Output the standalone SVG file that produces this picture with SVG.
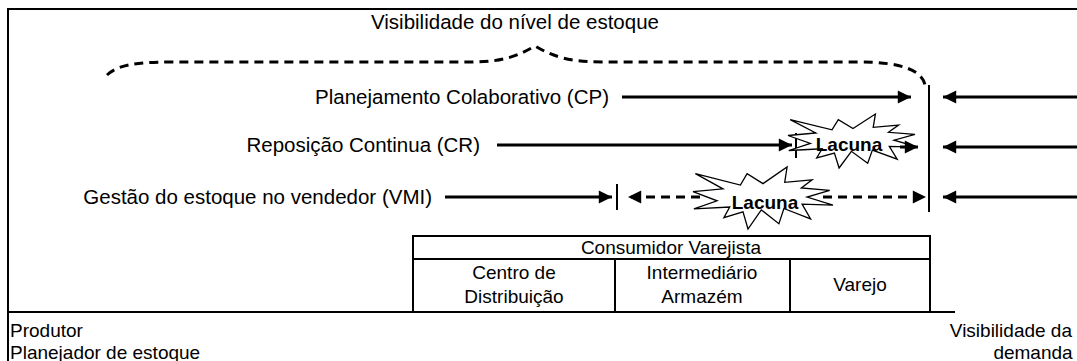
<svg xmlns="http://www.w3.org/2000/svg" width="1077" height="361" viewBox="0 0 1077 361">
<style>
text{font-family:"Liberation Sans",Arial,sans-serif;font-size:19px;fill:#000}
.lg{font-size:20.5px}
.b{font-weight:bold}
.ln{stroke:#000;stroke-width:3;fill:none}
.ds{stroke:#000;stroke-width:3;fill:none;stroke-dasharray:9,6}
.fr{stroke:#000;stroke-width:2;fill:none}
.st{fill:#fff;stroke:#000;stroke-width:1.3}
</style>
<defs>
<marker id="ah" viewBox="0 0 10 10" refX="10" refY="5" markerWidth="5.3" markerHeight="4.4" orient="auto-start-reverse" markerUnits="strokeWidth"><path d="M0,0 L10,5 L0,10 z" fill="#000"/></marker>
</defs>
<rect width="1077" height="361" fill="#fff"/>
<g id="frame">
<path class="fr" d="M8,361 V9 H1077"/>
<path class="fr" d="M8,312 H955"/>
</g>
<g id="title"><text class="lg" x="515" y="29" text-anchor="middle">Visibilidade do nível de estoque</text></g>
<g id="labels">
<text class="lg" x="609" y="104" text-anchor="end">Planejamento Colaborativo (CP)</text>
<text class="lg" x="480" y="152" text-anchor="end">Reposição Continua (CR)</text>
<text class="lg" x="432" y="204" text-anchor="end">Gestão do estoque no vendedor (VMI)</text>
<text x="10" y="337" font-size="18.5">Produtor</text>
<text x="10" y="359" font-size="18.5">Planejador de estoque</text>
<text x="1072" y="337" text-anchor="end">Visibilidade da</text>
<text x="1033" y="359" text-anchor="middle">demanda</text>
</g>
<g id="connectors">
<path class="ds" stroke-width="2.5" d="M107,75 C118,65 135,62 170,62 L472,62 C502,62 518,56 535,46 C552,56 568,62 602,62 L860,62 C900,62 922,70 925,85"/>
<line class="ln" x1="622" y1="97" x2="911" y2="97" marker-end="url(#ah)"/>
<line class="ln" x1="497" y1="145" x2="792" y2="145" marker-end="url(#ah)"/>
<line class="ln" x1="445" y1="197" x2="612" y2="197" marker-end="url(#ah)"/>
<line class="ln" x1="1077" y1="97" x2="943" y2="97" marker-end="url(#ah)"/>
<line class="ln" x1="1077" y1="147" x2="943" y2="147" marker-end="url(#ah)"/>
<line class="ln" x1="1077" y1="197" x2="943" y2="197" marker-end="url(#ah)"/>
<line class="fr" x1="929" y1="85" x2="929" y2="212"/>
<line class="fr" x1="796" y1="133" x2="796" y2="158"/>
<line class="fr" x1="617" y1="184" x2="617" y2="210"/>
<line class="ds" x1="700" y1="197" x2="628" y2="197" marker-end="url(#ah)"/>
<line class="ds" x1="823" y1="197" x2="926" y2="197" marker-end="url(#ah)"/>
</g>
<g id="lacuna-cr">
<polygon class="st" points="853,128.5 875.4,114 873.2,127.3 898.6,125.1 888.5,132.3 915,134.3 894,140.2 918,147.2 889.3,146.4 897.2,159.2 872.4,150.1 867.7,163.3 851.4,151.3 839.1,168 834.4,153.1 816.7,158 822.1,148.8 788.8,150.5 810.4,143.4 788,135.5 815.8,133 790.2,119.7 832,129.8 838.3,119.7"/>
<line class="ln" x1="900" y1="147" x2="918" y2="147" marker-end="url(#ah)"/>
<text class="b" x="849" y="151" text-anchor="middle" font-size="14.5">Lacuna</text>
</g>
<g id="lacuna-vmi">
<polygon class="st" points="763,183.6 787.1,167 784.7,182.3 812.1,179.8 801.3,188 829.7,190.4 807.1,197.1 833,205.1 802.1,204.1 810.6,218.9 783.9,208.5 778.9,223.7 761.3,209.9 748,229 743,211.9 723.9,217.6 729.7,207 693.9,208.9 717.1,200.8 693,191.7 723,188.9 695.4,173.6 740.4,185.1 747.1,173.6"/>
<text class="b" x="765" y="209" text-anchor="middle" font-size="18">Lacuna</text>
</g>
<g id="table">
<rect class="fr" x="413" y="236" width="517" height="76"/>
<line class="fr" x1="413" y1="259" x2="930" y2="259"/>
<line class="fr" x1="615" y1="259" x2="615" y2="312"/>
<line class="fr" x1="790" y1="259" x2="790" y2="312"/>
<text x="671" y="254" text-anchor="middle" font-size="20">Consumidor Varejista</text>
<text x="514" y="279" text-anchor="middle">Centro de</text>
<text x="514" y="303" text-anchor="middle">Distribuição</text>
<text x="702" y="279" text-anchor="middle">Intermediário</text>
<text x="702" y="303" text-anchor="middle">Armazém</text>
<text x="860" y="291" text-anchor="middle" font-size="20">Varejo</text>
</g>
</svg>
